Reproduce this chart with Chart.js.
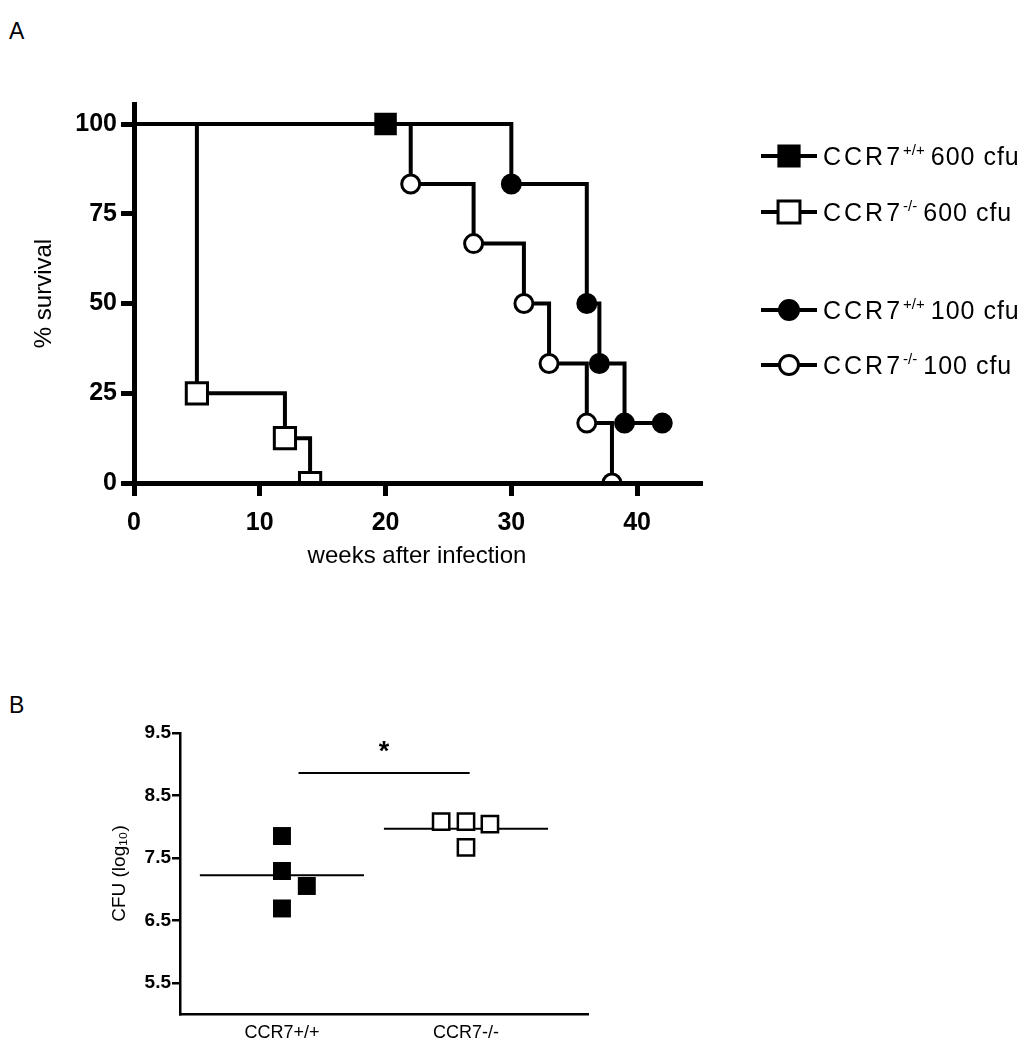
<!DOCTYPE html>
<html lang="en">
<head>
    <meta charset="UTF-8">
    <title>CCR7 survival and CFU</title>
    <script src="https://cdn.jsdelivr.net/npm/chart.js"></script>
    <style>
        body {
            margin: 0;
            padding: 0;
            background-color: #ffffff;
            font-family: "Liberation Sans", Arial, sans-serif;
        }

        .page {
            position: relative;
            width: 1026px;
            height: 1050px;
            overflow: hidden;
        }

        .panel-label {
            position: absolute;
            left: 9px;
            font-size: 23px;
            line-height: 23px;
            color: #000;
        }

        #survivalChart {
            position: absolute;
            left: 0;
            top: 0;
        }

        #cfuChart {
            position: absolute;
            left: 0;
            top: 680px;
        }
    </style>
</head>
<body>
    <div class="page">
        <div class="panel-label" style="top: 20px;">A</div>
        <canvas id="survivalChart" width="1026" height="600"></canvas>
        <div class="panel-label" style="top: 694px;">B</div>
        <canvas id="cfuChart" width="1026" height="370"></canvas>
    </div>

    <script>
        const FONT = '"Liberation Sans", Arial, Helvetica, sans-serif';

        // Panel A - Kaplan-Meier survival (weeks, % survival)
        const weeksWt600 = [0, 20];
        const survWt600 = [100, 100];
        const weeksKo600 = [0, 5, 12, 14];
        const survKo600 = [100, 25, 12.5, 0];
        const weeksWt100 = [0, 30, 36, 37, 39, 42];
        const survWt100 = [100, 83.3, 50, 33.3, 16.7, 16.7];
        const weeksKo100 = [0, 22, 27, 31, 33, 36, 38];
        const survKo100 = [100, 83.3, 66.7, 50, 33.3, 16.7, 0];

        const strainName = 'CCR7';
        const genotypes = ['+/+', '-/-', '+/+', '-/-'];
        const doses = ['600 cfu', '600 cfu', '100 cfu', '100 cfu'];
        const survivalTicks = [0, 25, 50, 75, 100];
        const weekTicks = [0, 10, 20, 30, 40];

        // Panel B - lung CFU (log10)
        const groupNames = ['CCR7+/+', 'CCR7-/-'];
        const cfuWt = [7.85, 7.29, 7.05, 6.69];
        const spreadWt = [0, 0, 0.135, 0];
        const cfuKo = [8.08, 8.08, 8.04, 7.67];
        const spreadKo = [-0.135, 0, 0.13, 0];
        const cfuTicks = [5.5, 6.5, 7.5, 8.5, 9.5];
        const sigBar = { from: 1.09, to: 2.02, y: 8.86, starY: 9.18 };

        function toPoints(xs, ys) {
            return xs.map((x, i) => ({ x: x, y: ys[i] }));
        }

        // no marker on the starting point of each curve
        function markerSizes(xs, r) {
            return xs.map((x, i) => i === 0 ? 0 : r);
        }

        function mean(arr) {
            return arr.reduce((s, v) => s + v, 0) / arr.length;
        }

        const legendRows = [156, 212, 310, 365];

        // legend on the right side, with superscript genotypes
        const sideLegend = {
            id: 'sideLegend',
            afterDraw(chart) {
                const ctx = chart.ctx;
                chart.data.datasets.forEach((ds, i) => {
                    const y = legendRows[i];
                    ctx.save();
                    ctx.strokeStyle = '#000';
                    ctx.lineWidth = 4;
                    ctx.beginPath();
                    ctx.moveTo(761, y);
                    ctx.lineTo(817, y);
                    ctx.stroke();

                    ctx.fillStyle = ds.pointBackgroundColor;
                    ctx.strokeStyle = '#000';
                    ctx.lineWidth = ds.pointBorderWidth;
                    Chart.helpers.drawPoint(ctx, {
                        pointStyle: ds.pointStyle,
                        radius: ds.legendRadius,
                        borderWidth: ds.pointBorderWidth,
                        rotation: 0
                    }, 789, y);

                    ctx.fillStyle = '#000';
                    ctx.textBaseline = 'alphabetic';
                    ctx.textAlign = 'left';
                    let x = 823;
                    ctx.font = '25px ' + FONT;
                    ctx.letterSpacing = '3px';
                    ctx.fillText(strainName, x, y + 9);
                    x += ctx.measureText(strainName).width;
                    ctx.font = '15px ' + FONT;
                    ctx.letterSpacing = '0px';
                    ctx.fillText(genotypes[i], x, y - 1);
                    x += ctx.measureText(genotypes[i]).width + 6;
                    ctx.font = '25px ' + FONT;
                    ctx.letterSpacing = '1px';
                    ctx.fillText(doses[i], x, y + 9);
                    ctx.restore();
                });
            }
        };

        function curve(label, xs, ys, style, fill, radius, bw) {
            return {
                label: label,
                data: toPoints(xs, ys),
                stepped: true,
                borderColor: '#000',
                borderWidth: 4,
                pointStyle: style,
                pointRadius: markerSizes(xs, radius),
                pointHoverRadius: markerSizes(xs, radius),
                pointBackgroundColor: fill,
                pointBorderColor: '#000',
                pointBorderWidth: bw,
                legendRadius: radius + 0.5,
                fill: false
            };
        }

        new Chart(document.getElementById('survivalChart'), {
            type: 'line',
            data: {
                datasets: [
                    curve('CCR7+/+ 600 cfu', weeksWt600, survWt600, 'rect', '#000', 14.5, 2),
                    curve('CCR7-/- 600 cfu', weeksKo600, survKo600, 'rect', '#fff', 15, 3),
                    curve('CCR7+/+ 100 cfu', weeksWt100, survWt100, 'circle', '#000', 9.5, 2),
                    curve('CCR7-/- 100 cfu', weeksKo100, survKo100, 'circle', '#fff', 9, 3)
                ]
            },
            plugins: [sideLegend],
            options: {
                responsive: false,
                animation: false,
                layout: { padding: { left: 26, top: 104, right: 326, bottom: 27 } },
                plugins: { legend: { display: false }, tooltip: { enabled: false } },
                scales: {
                    x: {
                        type: 'linear',
                        min: 0,
                        max: 45,
                        afterBuildTicks: (s) => { s.ticks = weekTicks.map(v => ({ value: v })); },
                        afterFit: (s) => { s.height = 90; },
                        ticks: {
                            color: '#000',
                            padding: 12,
                            maxRotation: 0,
                            font: { family: FONT, size: 25, weight: 'bold' }
                        },
                        grid: { drawOnChartArea: false, color: '#000', lineWidth: 5, tickLength: 13 },
                        border: { color: '#000', width: 5, z: 1 },
                        title: {
                            display: true,
                            text: 'weeks after infection',
                            color: '#000',
                            font: { family: FONT, size: 24 },
                            padding: { top: 4, bottom: 2 }
                        }
                    },
                    y: {
                        min: 0,
                        max: 105.6,
                        afterBuildTicks: (s) => { s.ticks = survivalTicks.map(v => ({ value: v })); },
                        afterFit: (s) => { s.width = 108; },
                        ticks: {
                            color: '#000',
                            padding: 4,
                            font: { family: FONT, size: 25, weight: 'bold' }
                        },
                        grid: { drawOnChartArea: false, color: '#000', lineWidth: 5, tickLength: 13 },
                        border: { color: '#000', width: 5, z: 1 },
                        title: {
                            display: true,
                            text: '% survival',
                            color: '#000',
                            font: { family: FONT, size: 24 },
                            padding: { top: 4, bottom: 4 }
                        }
                    }
                }
            }
        });

        // asterisk over the significance bar
        const starLabel = {
            id: 'starLabel',
            afterDatasetsDraw(chart) {
                const ctx = chart.ctx;
                const x = chart.scales.x.getPixelForValue((sigBar.from + sigBar.to) / 2);
                const y = chart.scales.y.getPixelForValue(sigBar.starY);
                ctx.save();
                ctx.fillStyle = '#000';
                ctx.font = 'bold 27px ' + FONT;
                ctx.textAlign = 'center';
                ctx.textBaseline = 'middle';
                ctx.fillText('*', x, y);
                ctx.restore();
            }
        };

        const meanWt = mean(cfuWt);
        const meanKo = mean(cfuKo);
        const halfLine = 0.446;

        new Chart(document.getElementById('cfuChart'), {
            type: 'scatter',
            data: {
                datasets: [
                    {
                        label: groupNames[0],
                        data: cfuWt.map((v, i) => ({ x: 1 + spreadWt[i], y: v })),
                        pointStyle: 'rect',
                        pointRadius: 12.7,
                        pointBackgroundColor: '#000',
                        pointBorderColor: '#000',
                        pointBorderWidth: 0
                    },
                    {
                        label: groupNames[1],
                        data: cfuKo.map((v, i) => ({ x: 2 + spreadKo[i], y: v })),
                        pointStyle: 'rect',
                        pointRadius: 11.5,
                        pointBackgroundColor: '#fff',
                        pointBorderColor: '#000',
                        pointBorderWidth: 2.5
                    },
                    {
                        type: 'line',
                        label: 'mean ' + groupNames[0],
                        data: [{ x: 1 - halfLine, y: meanWt }, { x: 1 + halfLine, y: meanWt }],
                        borderColor: '#000',
                        borderWidth: 2,
                        pointRadius: 0
                    },
                    {
                        type: 'line',
                        label: 'mean ' + groupNames[1],
                        data: [{ x: 2 - halfLine, y: meanKo }, { x: 2 + halfLine, y: meanKo }],
                        borderColor: '#000',
                        borderWidth: 2,
                        pointRadius: 0
                    },
                    {
                        type: 'line',
                        label: 'p < 0.05',
                        data: [{ x: sigBar.from, y: sigBar.y }, { x: sigBar.to, y: sigBar.y }],
                        borderColor: '#000',
                        borderWidth: 2,
                        pointRadius: 0
                    }
                ]
            },
            plugins: [starLabel],
            options: {
                responsive: false,
                animation: false,
                layout: { padding: { left: 106, top: 53, right: 438, bottom: 0 } },
                plugins: { legend: { display: false }, tooltip: { enabled: false } },
                scales: {
                    x: {
                        type: 'linear',
                        min: 0.446,
                        max: 2.663,
                        afterBuildTicks: (s) => { s.ticks = [{ value: 1 }, { value: 2 }]; },
                        afterFit: (s) => { s.height = 36; },
                        ticks: {
                            color: '#000',
                            padding: 8,
                            maxRotation: 0,
                            font: { family: FONT, size: 18 },
                            callback: (v) => groupNames[v - 1]
                        },
                        grid: { display: true, drawOnChartArea: false, drawTicks: false },
                        border: { color: '#000', width: 2.5, z: 1 }
                    },
                    y: {
                        min: 5.0,
                        max: 9.5,
                        afterBuildTicks: (s) => { s.ticks = cfuTicks.map(v => ({ value: v })); },
                        afterFit: (s) => { s.width = 74; },
                        ticks: {
                            color: '#000',
                            padding: 1,
                            font: { family: FONT, size: 19, weight: 'bold' },
                            callback: (v) => v.toFixed(1)
                        },
                        grid: { drawOnChartArea: false, color: '#000', lineWidth: 2.5, tickLength: 8 },
                        border: { color: '#000', width: 2.5, z: 1 },
                        title: {
                            display: true,
                            text: 'CFU (log\u2081\u2080)',
                            color: '#000',
                            font: { family: FONT, size: 19 },
                            padding: { top: 2, bottom: 4 }
                        }
                    }
                }
            }
        });
    </script>
</body>
</html>
